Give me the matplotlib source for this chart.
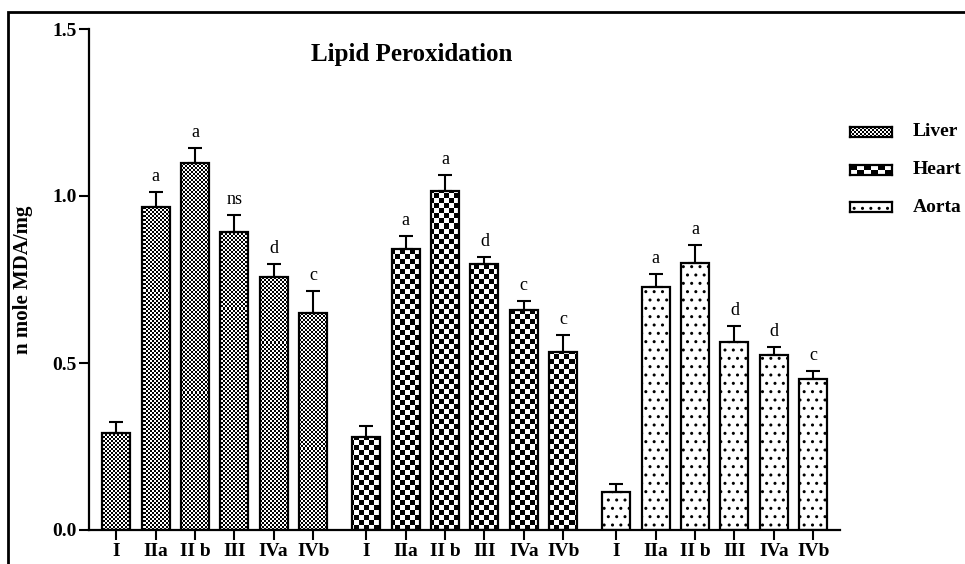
import matplotlib
matplotlib.use('Agg')
import matplotlib.pyplot as plt
import numpy as np
from matplotlib.patches import Rectangle

# Data (n mole MDA/mg)
groups = ['I', 'IIa', 'II b', 'III', 'IVa', 'IVb']
tissues = ['Liver', 'Heart', 'Aorta']
liver = [0.29, 0.967, 1.10, 0.892, 0.757, 0.65]
liver_err = [0.033, 0.045, 0.044, 0.051, 0.039, 0.066]
heart = [0.278, 0.841, 1.015, 0.796, 0.659, 0.533]
heart_err = [0.033, 0.039, 0.048, 0.021, 0.027, 0.051]
aorta = [0.114, 0.728, 0.80, 0.563, 0.524, 0.452]
aorta_err = [0.024, 0.038, 0.053, 0.048, 0.024, 0.024]
liver_sig = ['', 'a', 'a', 'ns', 'd', 'c']
heart_sig = ['', 'a', 'a', 'd', 'c', 'c']
aorta_sig = ['', 'a', 'a', 'd', 'd', 'c']

plt.rcParams['font.family'] = ['Liberation Serif', 'DejaVu Serif']

fig = plt.figure(figsize=(9.65, 5.64), dpi=100)
ax = fig.add_axes([89 / 965, 1 - 530 / 564, (840 - 89) / 965, (530 - 29) / 564])

xlim = (-0.69, 18.38)
ylim = (0, 1.5)


def checker(ncols, nrows):
    return (np.indices((nrows, ncols)).sum(axis=0) % 2).astype(float)


liver_tex = checker(375, 250)
heart_tex = checker(150, 100)

gap = 6.35
x = np.arange(len(groups))
series = [(liver, liver_err, liver_sig, liver_tex),
          (heart, heart_err, heart_sig, heart_tex),
          (aorta, aorta_err, aorta_sig, None)]

xticks, xlabels = [], []
for gi, (vals, errs, sigs, tex) in enumerate(series):
    xs = x + gi * gap
    if tex is None:
        bars = ax.bar(xs, vals, width=0.71, facecolor='white', edgecolor='black',
                      linewidth=1.6, hatch='..', zorder=2)
    else:
        bars = ax.bar(xs, vals, width=0.71, facecolor='none', edgecolor='black',
                      linewidth=1.6, zorder=2)
        for b in bars:
            im = ax.imshow(tex, cmap='gray', extent=(*xlim, *ylim), aspect='auto',
                           interpolation='nearest', zorder=1)
            im.set_clip_path(b)
    ax.errorbar(xs, vals, yerr=[np.zeros(len(vals)), errs], fmt='none',
                ecolor='black', elinewidth=1.5, capsize=5, capthick=1.5, zorder=3)
    for xi, v, e, s in zip(xs, vals, errs, sigs):
        if s:
            ax.text(xi, v + e + 0.022, s, ha='center', va='bottom', fontsize=13)
    xticks.extend(xs)
    xlabels.extend(groups)

ax.set_xlim(*xlim)
ax.set_ylim(*ylim)
ax.set_xticks(xticks)
ax.set_xticklabels(xlabels, fontsize=14, fontweight='bold')
ax.set_yticks([0.0, 0.5, 1.0, 1.5])
ax.set_yticklabels(['0.0', '0.5', '1.0', '1.5'], fontsize=14, fontweight='bold')
ax.tick_params(direction='out', length=7, width=1.5, pad=2)
for s in ['top', 'right']:
    ax.spines[s].set_visible(False)
for s in ['left', 'bottom']:
    ax.spines[s].set_linewidth(1.6)

ax.set_ylabel('n mole MDA/mg', fontsize=15, fontweight='bold', labelpad=14)
ax.text(0.43, 0.95, 'Lipid Peroxidation', transform=ax.transAxes, ha='center',
        va='center', fontsize=18, fontweight='bold')

# legend swatches
leg_y = [132, 170, 207]
leg_tex = [checker(21, 5), checker(6, 2), None]
for name, yc, tex in zip(tissues, leg_y, leg_tex):
    lax = fig.add_axes([850 / 965, 1 - (yc + 5) / 564, 42 / 965, 10 / 564])
    lax.set_xticks([])
    lax.set_yticks([])
    for sp in lax.spines.values():
        sp.set_linewidth(1.6)
    if tex is not None:
        lax.imshow(tex, cmap='gray', aspect='auto', interpolation='nearest')
    else:
        lax.add_patch(Rectangle((0, 0), 1, 1, transform=lax.transAxes,
                                facecolor='white', hatch='..', edgecolor='black', lw=0))
    fig.text(913 / 965, 1 - yc / 564, name, ha='left', va='center',
             fontsize=14, fontweight='bold')

# outer frame of the figure
fig.patches.append(Rectangle((8 / 965, -0.2), 1.2, 1.2 - 12 / 564, transform=fig.transFigure,
                             fill=False, edgecolor='black', linewidth=2, zorder=10))

fig.savefig('out.png', dpi=100)
